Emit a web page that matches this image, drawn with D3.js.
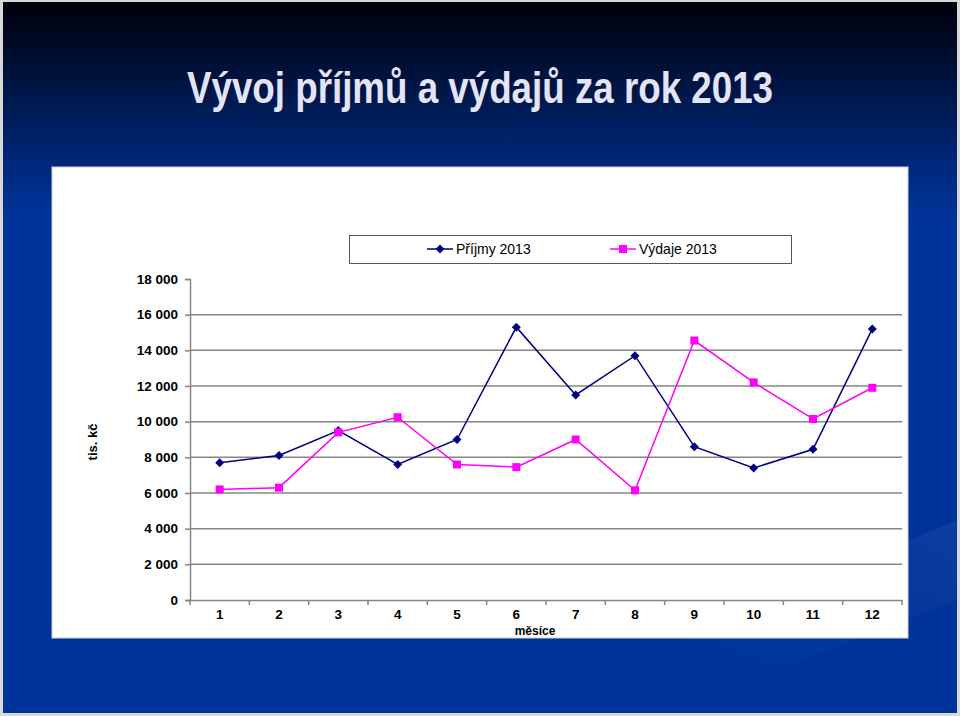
<!DOCTYPE html>
<html><head><meta charset="utf-8">
<script src="https://cdn.jsdelivr.net/npm/d3@7"></script>
<style>html,body{margin:0;padding:0;background:#003399;}svg{display:block;}</style>
</head><body>
<script>
const months = ["1","2","3","4","5","6","7","8","9","10","11","12"];
const prijmy = [7700, 8100, 9500, 7600, 9000, 15300, 11500, 13700, 8600, 7400, 8450, 15200];
const vydaje = [6200, 6300, 9400, 10250, 7600, 7450, 9000, 6150, 14550, 12200, 10150, 11900];
const yTicks = [0, 2000, 4000, 6000, 8000, 10000, 12000, 14000, 16000, 18000];
const seriesNames = ["Příjmy 2013", "Výdaje 2013"];
const title = "Vývoj příjmů a výdajů za rok 2013";

const W = 960, H = 716;
const svg = d3.select("body").append("svg").attr("width", W).attr("height", H);
const defs = svg.append("defs");
const g1 = defs.append("linearGradient").attr("id","bg").attr("x1",0).attr("y1",0).attr("x2",0).attr("y2",1);
g1.append("stop").attr("offset","0").attr("stop-color","#00000a");
g1.append("stop").attr("offset","0.24").attr("stop-color","#002a80");
g1.append("stop").attr("offset","0.3").attr("stop-color","#003399");
g1.append("stop").attr("offset","1").attr("stop-color","#003399");
const g2 = defs.append("linearGradient").attr("id","streak").attr("x1",0).attr("y1",1).attr("x2",1).attr("y2",0);
g2.append("stop").attr("offset","0").attr("stop-color","#003399").attr("stop-opacity",0);
g2.append("stop").attr("offset","1").attr("stop-color","#1a4aa8").attr("stop-opacity",0.8);

svg.append("rect").attr("width",W).attr("height",H).attr("fill","#d8d8d8");
svg.append("rect").attr("x",3).attr("y",2).attr("width",W-6).attr("height",H-5).attr("fill","url(#bg)");
svg.append("path").attr("d","M560,690 L957,520 L957,600 L700,700 Z").attr("fill","url(#streak)").attr("opacity",0.6);

svg.append("text").attr("x",480).attr("y",103).attr("text-anchor","middle")
  .attr("font-family","Liberation Sans, Arial, sans-serif").attr("font-weight","bold")
  .attr("font-size",45).attr("fill","#e4e4f7")
  .attr("textLength",586).attr("lengthAdjust","spacingAndGlyphs")
  .text(title);

svg.append("rect").attr("x",52).attr("y",167).attr("width",856).attr("height",471).attr("fill","#ffffff")
  .attr("stroke","#c8d0e0").attr("stroke-width",1);

const x = d3.scaleBand().domain(months).range([190, 902]);
const y = d3.scaleLinear().domain([0, 18000]).range([600, 279]);
const font = "Liberation Sans, Arial, sans-serif";
const grey = "#868686";

svg.append("g").selectAll("line").data(yTicks.filter(d => d > 0 && d < 18000)).join("line")
  .attr("x1",190).attr("x2",902).attr("y1",d=>y(d)).attr("y2",d=>y(d))
  .attr("stroke",grey).attr("stroke-width",1.5);

const yAx = svg.append("g").attr("transform","translate(190,0)")
  .call(d3.axisLeft(y).tickValues(yTicks).tickSize(5).tickPadding(7)
    .tickFormat(d => d3.format(",")(d).replace(/,/g," ")));
yAx.select(".domain").attr("stroke",grey).attr("stroke-width",1.5);
yAx.selectAll(".tick line").attr("stroke",grey).attr("stroke-width",1.5);
yAx.selectAll("text").attr("font-family",font).attr("font-weight","bold").attr("font-size",13.5).attr("fill","#000");

const xAx = svg.append("g").attr("transform","translate(0,600)")
  .call(d3.axisBottom(x).tickSize(0).tickPadding(9));
xAx.select(".domain").attr("stroke",grey).attr("stroke-width",1.5);
xAx.selectAll("text").attr("font-family",font).attr("font-weight","bold").attr("font-size",13.5).attr("fill","#000");
const bounds = months.map(m => x(m)).concat([x.range()[1]]);
svg.append("g").selectAll("line").data(bounds).join("line")
  .attr("x1",d=>d).attr("x2",d=>d).attr("y1",600).attr("y2",605)
  .attr("stroke",grey).attr("stroke-width",1.5);

svg.append("text").attr("x",535).attr("y",635).attr("text-anchor","middle")
  .attr("font-family",font).attr("font-weight","bold").attr("font-size",12).attr("fill","#000").text("měsíce");
svg.append("text").attr("transform","translate(97,442) rotate(-90)").attr("text-anchor","middle")
  .attr("font-family",font).attr("font-weight","bold").attr("font-size",13).attr("fill","#000").text("tis. kč");

const cx = m => x(m) + x.bandwidth()/2;
const line = d3.line().x((d,i)=>cx(months[i])).y(d=>y(d));
const navy = "#000080", mag = "#ff00ff";

svg.append("path").datum(prijmy).attr("d",line).attr("fill","none").attr("stroke",navy).attr("stroke-width",1.5);
svg.append("path").datum(vydaje).attr("d",line).attr("fill","none").attr("stroke",mag).attr("stroke-width",1.5);

const diamond = "M0,-4.5L4.5,0L0,4.5L-4.5,0Z";
svg.append("g").selectAll("path").data(prijmy).join("path")
  .attr("d",diamond).attr("transform",(d,i)=>`translate(${cx(months[i])},${y(d)})`).attr("fill",navy);
svg.append("g").selectAll("rect").data(vydaje).join("rect")
  .attr("x",(d,i)=>cx(months[i])-4).attr("y",d=>y(d)-4).attr("width",8).attr("height",8).attr("fill",mag);

svg.append("rect").attr("x",349.5).attr("y",235.5).attr("width",442).attr("height",28)
  .attr("fill","#fff").attr("stroke","#555").attr("stroke-width",1);
const leg = [{x:427, c:navy, t:"d"},{x:610, c:mag, t:"s"}];
leg.forEach((l,i) => {
  svg.append("line").attr("x1",l.x).attr("x2",l.x+26).attr("y1",249).attr("y2",249).attr("stroke",l.c).attr("stroke-width",1.5);
  if (l.t === "d") svg.append("path").attr("d",diamond).attr("transform",`translate(${l.x+13},249)`).attr("fill",l.c);
  else svg.append("rect").attr("x",l.x+9).attr("y",245).attr("width",8).attr("height",8).attr("fill",l.c);
  svg.append("text").attr("x",l.x+29).attr("y",254).attr("font-family",font).attr("font-size",14).attr("fill","#000").text(seriesNames[i]);
});
</script>
</body></html>
